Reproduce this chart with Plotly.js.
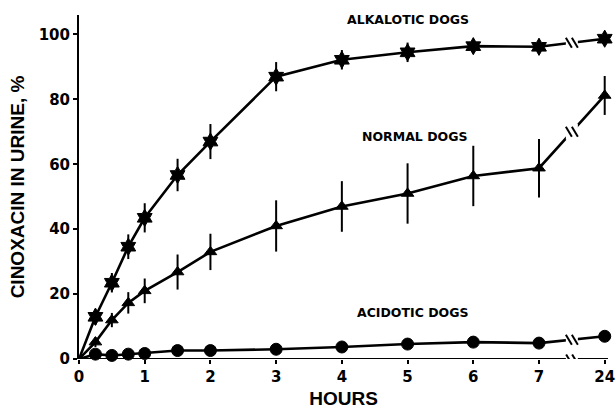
<!DOCTYPE html>
<html>
<head>
<meta charset="utf-8">
<script src="https://cdn.plot.ly/plotly-3.0.1.min.js"></script>
<style>
  html, body { margin: 0; padding: 0; background: #fff; }
  #chart { width: 616px; height: 409px; }
</style>
</head>
<body>
<div id="chart"></div>
<script>
// Sampling times (hours after dosing)
const hours = [0, 0.25, 0.5, 0.75, 1, 1.5, 2, 3, 4, 5, 6, 7, 24];

// Cumulative cinoxacin recovered in urine, % of dose (mean and SE)
const alkalotic    = [0, 13, 23.5, 34.6, 43.5, 56.7, 67, 87, 92.2, 94.5, 96.4, 96.2, 98.7];
const alkaloticErr = [0, 2.5, 3, 3.8, 4.5, 5, 5.4, 4.5, 3, 3, 2, 2.5, 2];
const normal       = [0, 5.2, 12, 17.3, 21, 26.8, 33, 41, 47, 51, 56.4, 58.8, 81.2];
const normalErr    = [0, 1.5, 2.2, 3.3, 3.8, 5.4, 5.6, 7.9, 7.8, 9.3, 9.3, 9, 6];
const acidotic     = [0, 1.5, 1.1, 1.5, 1.7, 2.6, 2.6, 3, 3.7, 4.6, 5.2, 4.9, 7];

// Axis tick labels (the 24 h sample sits after a broken axis)
const tickHours = [0, 1, 2, 3, 4, 5, 6, 7, 24];
const yTicks = [0, 20, 40, 60, 80, 100];

const groupLabels = ['ALKALOTIC DOGS', 'NORMAL DOGS', 'ACIDOTIC DOGS'];

// Hours 0-7 are on a linear scale; 24 h is drawn one unit past 7
const LAST_LINEAR = 7;
const pos = h => (h <= LAST_LINEAR ? h : LAST_LINEAR + 1);
const xs = hours.map(pos);
const breakX = LAST_LINEAR + 0.5;
const X_MAX = 8.05;

function series(y, err, symbol, size) {
  const t = {
    x: xs, y: y, type: 'scatter', mode: 'lines+markers', cliponaxis: false,
    line: { color: '#000', width: 2.6 },
    marker: { symbol: symbol, color: '#000', opacity: 1,
              size: hours.map(h => (h === 0 ? 0 : size)),
              line: { color: '#000', width: 1 } },
    showlegend: false, hoverinfo: 'skip'
  };
  if (err) {
    t.error_y = { type: 'data', array: err, visible: true, color: '#000', thickness: 2, width: 0 };
  }
  return t;
}

const traces = [
  series(alkalotic, alkaloticErr, 'hexagram', 13),
  series(normal, normalErr, 'triangle-up', 11),
  series(acidotic, null, 'circle', 12)
];

// Horizontal axis line drawn as a shape so that it can be broken
const shapes = [{
  type: 'line', xref: 'x', yref: 'y', x0: 0, x1: X_MAX, y0: 0, y1: 0,
  line: { color: '#000', width: 2 }, layer: 'above'
}];

// Break marks ("\\") on each curve and on the x axis, between 7 h and 24 h
function addBreak(yb, h, m) {
  shapes.push({
    type: 'rect', xref: 'x', yref: 'y', xsizemode: 'pixel', ysizemode: 'pixel',
    xanchor: breakX, yanchor: yb, x0: -6, x1: 6, y0: -h, y1: h,
    fillcolor: '#fff', line: { width: 0 }, layer: 'above'
  });
  [-3, 3].forEach(dx => {
    shapes.push({
      type: 'line', xref: 'x', yref: 'y', xsizemode: 'pixel', ysizemode: 'pixel',
      xanchor: breakX, yanchor: yb, x0: dx - m * 0.6, x1: dx + m * 0.6, y0: m, y1: -m,
      line: { color: '#000', width: 2 }, layer: 'above'
    });
  });
}
const i7 = hours.indexOf(7), i24 = hours.indexOf(24);
[alkalotic, normal, acidotic].forEach(s => addBreak((s[i7] + s[i24]) / 2, 8, 5));
addBreak(0, 3, 4.5);

const labelFont = { family: 'DejaVu Sans', size: 12.5, color: '#000', weight: 'bold' };
const annotations = [
  { x: 5.0, y: 104.5, text: groupLabels[0] },
  { x: 5.1, y: 68.5, text: groupLabels[1] },
  { x: 5.07, y: 14.2, text: groupLabels[2] }
].map(a => Object.assign({ xref: 'x', yref: 'y', showarrow: false, font: labelFont,
                             xanchor: 'center', yanchor: 'middle' }, a));

const layout = {
  width: 616, height: 409,
  margin: { l: 79, r: 8, t: 15, b: 50, pad: 0 },
  paper_bgcolor: '#fff', plot_bgcolor: '#fff',
  showlegend: false,
  xaxis: {
    range: [0, X_MAX], showgrid: false, zeroline: false, showline: false,
    ticks: 'outside', ticklen: 4, tickwidth: 2, tickcolor: '#000',
    tickvals: tickHours.map(pos), ticktext: tickHours.map(String),
    tickfont: { family: 'DejaVu Sans', size: 15, color: '#000', weight: 'bold' },
    title: { text: 'HOURS', standoff: 6,
             font: { family: 'Liberation Sans, Arial', size: 19, color: '#000', weight: 'bold' } }
  },
  yaxis: {
    range: [0, 106], showgrid: false, zeroline: false,
    showline: true, linecolor: '#000', linewidth: 2,
    ticks: 'outside', ticklen: 4, tickwidth: 2, tickcolor: '#000',
    tickvals: yTicks,
    tickfont: { family: 'DejaVu Sans', size: 15, color: '#000', weight: 'bold' },
    title: { text: 'CINOXACIN IN URINE, %', standoff: 9,
             font: { family: 'Liberation Sans, Arial', size: 19, color: '#000', weight: 'bold' } }
  },
  shapes: shapes,
  annotations: annotations
};

Plotly.newPlot('chart', traces, layout, { staticPlot: true, displayModeBar: false });
</script>
</body>
</html>
